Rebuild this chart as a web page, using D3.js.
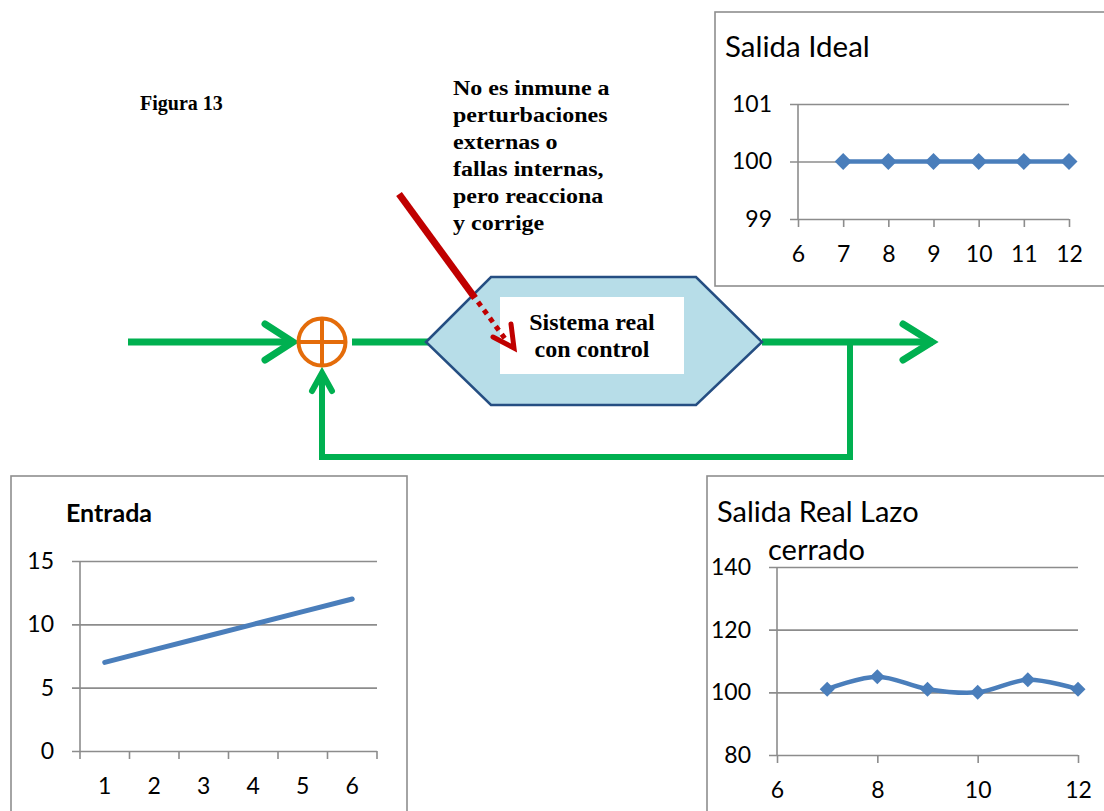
<!DOCTYPE html>
<html>
<head>
<meta charset="utf-8">
<script src="https://cdn.jsdelivr.net/npm/d3@7"></script>
<style>
  html, body { margin: 0; padding: 0; background: #fff; }
  svg { display: block; }
  .tick text { font-family: Lato, "Open Sans", sans-serif; font-size: 23px; fill: #000; }
  .serif { font-family: "Liberation Serif", "Times New Roman", serif; font-weight: bold; fill: #000; }
  .ctitle { font-family: Lato, "Open Sans", sans-serif; fill: #000; }
</style>
</head>
<body>
<svg id="fig" width="1104" height="811"></svg>
<script>
// ---- data ----
const entradaX = [1, 2, 3, 4, 5, 6];
const entradaY = [7, 8, 9, 10, 11, 12];
const entradaYTicks = [0, 5, 10, 15];

const idealX = [7, 8, 9, 10, 11, 12];
const idealY = [100, 100, 100, 100, 100, 100];
const idealXTicks = [6, 7, 8, 9, 10, 11, 12];
const idealYTicks = [99, 100, 101];

const realX = [7, 8, 9, 10, 11, 12];
const realY = [101, 105, 101, 100, 104, 101];
const realXTicks = [6, 8, 10, 12];
const realYTicks = [80, 100, 120, 140];

const noteLines = ["No es inmune a", "perturbaciones", "externas o", "fallas internas,", "pero reacciona", "y corrige"];
const blockLines = ["Sistema real", "con control"];

// ---- styles ----
const BLUE = "#4A7EBB", GRID = "#8C8C8C", FRAME = "#8E8E8E";
const GREEN = "#00B050", ORANGE = "#E46C0A", RED = "#C00000";
const fmt = d3.format("d");

const svg = d3.select("#fig");

// ---- chart frames ----
function frame(x, y, w, h) {
  svg.append("rect").attr("x", x).attr("y", y).attr("width", w).attr("height", h)
    .attr("fill", "#fff").attr("stroke", FRAME).attr("stroke-width", 1.6);
}
frame(715, 12, 420, 274);
frame(11, 476, 396, 360);
frame(707, 476, 420, 360);

// value axis with gridlines (short outer tick on the left) and an x axis below
function axes(g, x, y, yTicks, xAxisGen, w) {
  const yAx = g.append("g").call(d3.axisLeft(y).tickValues(yTicks).tickFormat(fmt).tickSize(0).tickPadding(26));
  yAx.select(".domain").remove();
  yAx.selectAll(".tick line").attr("x1", -8).attr("x2", w).attr("stroke", GRID).attr("stroke-width", 1.6);
  const h = y.range()[0];
  const xAx = g.append("g").attr("transform", `translate(0,${h})`).call(xAxisGen);
  xAx.select(".domain").remove();
  xAx.selectAll(".tick line").attr("stroke", GRID).attr("stroke-width", 1.6);
  xAx.selectAll(".tick text").attr("y", 43).attr("dy", null);
  g.append("line").attr("x1", 0).attr("x2", 0).attr("y1", y.range()[1]).attr("y2", h)
    .attr("stroke", GRID).attr("stroke-width", 1.6);
}

const diamond = r => `M0,${-r}L${r},0L0,${r}L${-r},0Z`;

// ---- Salida Ideal ----
{
  const ox = 798, oy = 104, w = 271, h = 115;
  const g = svg.append("g").attr("transform", `translate(${ox},${oy})`);
  const x = d3.scaleLinear().domain([6, 12]).range([0, w]);
  const y = d3.scaleLinear().domain([99, 101]).range([h, 0]);
  axes(g, x, y, idealYTicks, d3.axisBottom(x).tickValues(idealXTicks).tickFormat(fmt).tickSize(8).tickSizeOuter(0), w);
  const pts = idealX.map((d, i) => [x(d), y(idealY[i])]);
  g.append("path").attr("d", d3.line()(pts)).attr("fill", "none").attr("stroke", BLUE).attr("stroke-width", 4.5);
  g.selectAll(".mk").data(pts).join("path").attr("transform", d => `translate(${d})`)
    .attr("d", diamond(8.5)).attr("fill", BLUE);
  svg.append("text").attr("class", "ctitle").attr("x", 725).attr("y", 57).attr("font-size", 29.5).text("Salida Ideal");
}

// ---- Entrada ----
{
  const ox = 80, oy = 561, w = 297, h = 190;
  const g = svg.append("g").attr("transform", `translate(${ox},${oy})`);
  const x = d3.scaleBand().domain(entradaX).range([0, w]);
  const y = d3.scaleLinear().domain([0, 15]).range([h, 0]);
  const yAx = g.append("g").call(d3.axisLeft(y).tickValues(entradaYTicks).tickFormat(fmt).tickSize(0).tickPadding(26));
  yAx.select(".domain").remove();
  yAx.selectAll(".tick line").attr("x1", -8).attr("x2", w).attr("stroke", GRID).attr("stroke-width", 1.6);
  const xAx = g.append("g").attr("transform", `translate(0,${h})`).call(d3.axisBottom(x).tickSize(0));
  xAx.select(".domain").remove();
  xAx.selectAll(".tick text").attr("y", 43).attr("dy", null);
  // category axis: tick marks sit between categories
  const bounds = d3.range(entradaX.length + 1).map(i => i * x.step());
  xAx.selectAll(".bnd").data(bounds).join("line").attr("x1", d => d).attr("x2", d => d)
    .attr("y1", 0).attr("y2", 8).attr("stroke", GRID).attr("stroke-width", 1.6);
  g.append("line").attr("x1", 0).attr("x2", 0).attr("y1", 0).attr("y2", h).attr("stroke", GRID).attr("stroke-width", 1.6);
  const pts = entradaX.map((d, i) => [x(d) + x.bandwidth() / 2, y(entradaY[i])]);
  g.append("path").attr("d", d3.line()(pts)).attr("fill", "none").attr("stroke", BLUE)
    .attr("stroke-width", 5).attr("stroke-linecap", "round");
  svg.append("text").attr("class", "ctitle").attr("x", 66).attr("y", 522).attr("font-size", 25)
    .attr("font-weight", "bold").text("Entrada");
}

// ---- Salida Real Lazo cerrado ----
{
  const ox = 777, oy = 567, w = 301, h = 188;
  const g = svg.append("g").attr("transform", `translate(${ox},${oy})`);
  const x = d3.scaleLinear().domain([6, 12]).range([0, w]);
  const y = d3.scaleLinear().domain([80, 140]).range([h, 0]);
  axes(g, x, y, realYTicks, d3.axisBottom(x).tickValues(realXTicks).tickFormat(fmt).tickSize(8).tickSizeOuter(0), w);
  const pts = realX.map((d, i) => [x(d), y(realY[i])]);
  g.append("path").attr("d", d3.line().curve(d3.curveCardinal.tension(0))(pts)).attr("fill", "none")
    .attr("stroke", BLUE).attr("stroke-width", 4.5);
  g.selectAll(".mk").data(pts).join("path").attr("transform", d => `translate(${d})`)
    .attr("d", diamond(7.5)).attr("fill", BLUE);
  svg.append("text").attr("class", "ctitle").attr("x", 717).attr("y", 522).attr("font-size", 29).text("Salida Real Lazo");
  svg.append("text").attr("class", "ctitle").attr("x", 768).attr("y", 560).attr("font-size", 29).text("cerrado");
}

// ---- block diagram ----
const dg = svg.append("g");
const lw = 7;
function seg(pts, width, color) {
  dg.append("path").attr("d", d3.line()(pts)).attr("fill", "none").attr("stroke", color)
    .attr("stroke-width", width).attr("stroke-linejoin", "miter").attr("stroke-linecap", "butt");
}
function chevron(pts, width, color) {
  dg.append("path").attr("d", d3.line()(pts)).attr("fill", "none").attr("stroke", color)
    .attr("stroke-width", width).attr("stroke-linejoin", "miter").attr("stroke-linecap", "round");
}
// input
seg([[128, 342], [292, 342]], lw, GREEN);
chevron([[265, 324], [293, 342], [265, 360]], lw, GREEN);
// summer -> block
seg([[352, 342], [428, 342]], lw, GREEN);
// output
seg([[762, 342], [933, 342]], lw, GREEN);
chevron([[903, 324], [932, 342], [903, 360]], lw, GREEN);
// feedback loop
seg([[850, 342], [850, 457], [322, 457], [322, 374]], 6, GREEN);
chevron([[312, 391], [322, 373], [332, 391]], 6, GREEN);

// summing junction
dg.append("circle").attr("cx", 322).attr("cy", 342).attr("r", 23.5).attr("fill", "#fff")
  .attr("stroke", ORANGE).attr("stroke-width", 4);
dg.append("line").attr("x1", 298.5).attr("x2", 345.5).attr("y1", 342).attr("y2", 342).attr("stroke", ORANGE).attr("stroke-width", 4);
dg.append("line").attr("x1", 322).attr("x2", 322).attr("y1", 318.5).attr("y2", 365.5).attr("stroke", ORANGE).attr("stroke-width", 4);

// system block
dg.append("path").attr("d", d3.line()([[426, 342], [491, 277], [696, 277], [762, 342], [696, 405], [491, 405]]) + "Z")
  .attr("fill", "#B7DDE8").attr("stroke", "#254E82").attr("stroke-width", 2.5);
dg.append("rect").attr("x", 500).attr("y", 297).attr("width", 184).attr("height", 77).attr("fill", "#fff");
dg.selectAll(".bl").data(blockLines).join("text").attr("class", "serif")
  .attr("x", 592).attr("y", (d, i) => 330 + i * 27).attr("text-anchor", "middle")
  .attr("font-size", 24).text(d => d);

// disturbance arrow
seg([[399, 194], [475, 298]], 7, RED);
dg.append("path").attr("d", d3.line()([[478, 302], [506, 340]])).attr("fill", "none")
  .attr("stroke", RED).attr("stroke-width", 5).attr("stroke-dasharray", "5,5");
chevron([[493, 337], [514, 348], [511, 324]], 5, RED);

// labels
svg.append("text").attr("class", "serif").attr("x", 140).attr("y", 110).attr("font-size", 20).text("Figura 13");
svg.selectAll(".note").data(noteLines).join("text").attr("class", "serif")
  .attr("transform", (d, i) => `translate(453,${95 + i * 27}) scale(1.2,1)`)
  .attr("font-size", 20).text(d => d);
</script>
</body>
</html>
